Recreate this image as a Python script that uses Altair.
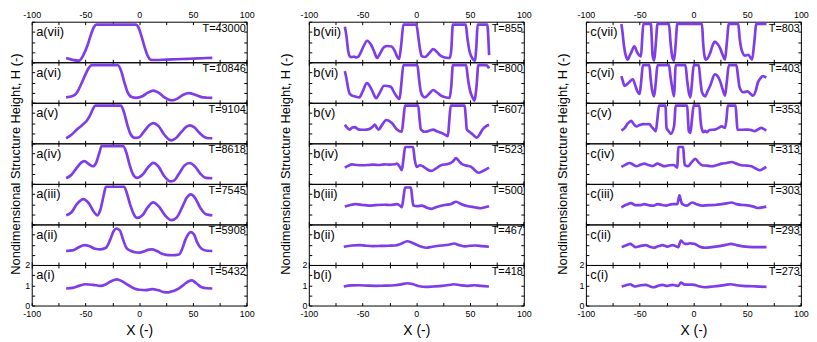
import altair as alt
import pandas as pd

ROMAN = ["vii", "vi", "v", "iv", "iii", "ii", "i"]
T_A = [43000, 10846, 9104, 8618, 7545, 5908, 5432]
T_B = [855, 800, 607, 523, 500, 467, 418]
T_C = [803, 403, 353, 313, 303, 293, 273]
X_TICKS = [-100, -75, -50, -25, 0, 25, 50, 75, 100]
Y_TICKS = [0, 0.5, 1, 1.5, 2]
Y_TITLE = "Nondimensional Structure Height, H (-)"
X_TITLE = "X (-)"

# ---- panel a ----
a7 = [(-68, 0.21), (-62, 0.12), (-56, 0.08), (-52, 0.35), (-48, 0.85), (-45, 1.35), (-42, 1.75), (-40, 1.86),
      (-3, 1.86), (-1, 1.75), (2, 1.3), (5, 0.75), (8, 0.3), (11, 0.12), (15, 0.11), (25, 0.13), (35, 0.15),
      (45, 0.17), (55, 0.19), (62, 0.21), (68, 0.22)]
a6 = [(-68, 0.27), (-62, 0.33), (-58, 0.5), (-54, 0.92), (-50, 1.4), (-47, 1.72), (-44, 1.86), (-20, 1.86),
      (-17, 1.6), (-14, 1.05), (-11, 0.55), (-7, 0.28), (-3, 0.24), (3, 0.32), (8, 0.5), (13, 0.6), (18, 0.5),
      (24, 0.25), (30, 0.12), (36, 0.22), (41, 0.4), (46, 0.48), (52, 0.4), (58, 0.28), (63, 0.25), (68, 0.24)]
a5 = [(-68, 0.25), (-63, 0.42), (-58, 0.68), (-53, 0.9), (-49, 1.1), (-46, 1.35), (-43, 1.7), (-41, 1.86),
      (-17, 1.86), (-14, 1.5), (-11, 0.9), (-8, 0.45), (-4, 0.27), (0, 0.3), (4, 0.55), (9, 0.88), (13, 1.0),
      (18, 0.85), (23, 0.45), (28, 0.18), (30, 0.15), (34, 0.25), (39, 0.55), (44, 0.82), (47, 0.89), (51, 0.8),
      (56, 0.52), (61, 0.3), (65, 0.25), (68, 0.25)]
a4 = [(-68, 0.28), (-63, 0.45), (-58, 0.8), (-54, 1.05), (-51, 1.12), (-47, 0.98), (-43, 0.87), (-40, 1.05),
      (-37, 1.55), (-35, 1.86), (-15, 1.86), (-12, 1.55), (-9, 0.95), (-6, 0.5), (-2, 0.3), (3, 0.45), (8, 0.8),
      (13, 1.04), (18, 0.85), (23, 0.4), (29, 0.12), (32, 0.15), (37, 0.5), (42, 0.9), (47, 1.03), (52, 0.85),
      (57, 0.5), (62, 0.3), (68, 0.28)]
a3 = [(-68, 0.45), (-63, 0.6), (-58, 1.0), (-52, 1.25), (-47, 1.05), (-42, 0.6), (-39, 0.45), (-36, 0.75),
      (-33, 1.45), (-31, 1.86), (-14, 1.86), (-11, 1.45), (-8, 0.9), (-5, 0.5), (-2, 0.32), (3, 0.45), (8, 0.85),
      (13, 1.09), (18, 0.9), (24, 0.45), (30, 0.21), (35, 0.35), (40, 0.85), (44, 1.3), (48, 1.48), (52, 1.3),
      (57, 0.8), (62, 0.5), (68, 0.45)]
a2 = [(-68, 0.69), (-62, 0.72), (-57, 0.85), (-51, 0.98), (-46, 0.92), (-41, 0.8), (-36, 0.77), (-31, 0.85),
      (-27, 1.25), (-24, 1.65), (-21, 1.8), (-18, 1.7), (-15, 1.25), (-12, 0.85), (-8, 0.7), (-4, 0.63), (0, 0.61),
      (5, 0.68), (9, 0.76), (12, 0.77), (16, 0.7), (21, 0.55), (25, 0.5), (30, 0.48), (37, 0.52), (40, 0.8),
      (43, 1.25), (46, 1.55), (48, 1.62), (51, 1.5), (54, 1.1), (58, 0.8), (63, 0.7), (68, 0.69)]
a1 = [(-68, 0.84), (-62, 0.87), (-56, 0.97), (-50, 1.05), (-43, 1.02), (-36, 0.97), (-31, 1.05), (-26, 1.2),
      (-21, 1.29), (-16, 1.2), (-10, 1.0), (-4, 0.83), (0, 0.78), (6, 0.76), (12, 0.81), (18, 0.75), (23, 0.66),
      (27, 0.65), (32, 0.72), (37, 0.85), (42, 1.05), (46, 1.2), (49, 1.24), (53, 1.1), (58, 0.9), (63, 0.85),
      (68, 0.84)]

# ---- panel b ----
b7 = [(-66.5, 1.75), (-65, 1.3), (-63.5, 0.6), (-62, 0.3), (-60, 0.25), (-58, 0.28), (-56, 0.24), (-54, 0.27),
      (-52, 0.45), (-49, 0.8), (-45.7, 1.06), (-42, 0.85), (-39, 0.5), (-36.5, 0.21), (-34, 0.4), (-30, 0.75),
      (-27, 0.8), (-23, 0.78), (-20, 0.55), (-17.5, 0.25), (-16, 0.16), (-14, 0.9), (-12, 1.86), (0, 1.86),
      (2, 1.2), (3.5, 0.62), (5, 0.3), (8, 0.26), (12, 0.45), (15.6, 0.65), (19, 0.52), (22, 0.35), (25, 0.26),
      (28, 0.22), (31, 0.21), (32.5, 0.6), (34, 1.86), (46, 1.86), (47.5, 1.2), (49.5, 0.54), (51.5, 0.25),
      (53.5, 0.1), (54.5, 0.08), (56, 0.9), (57, 1.86), (66, 1.86), (67, 1.2), (67.7, 0.35)]
b6 = [(-66.5, 1.56), (-65, 1.2), (-63.5, 0.75), (-62, 0.45), (-59, 0.34), (-56, 0.3), (-53, 0.27), (-50, 0.55),
      (-46, 0.97), (-42, 0.7), (-39, 0.35), (-37.4, 0.23), (-34, 0.5), (-30, 0.84), (-24, 0.8), (-20.5, 0.5),
      (-18.5, 0.33), (-15.6, 0.19), (-14, 0.9), (-12, 1.86), (1, 1.86), (2.5, 1.2), (4, 0.6), (6, 0.33), (8, 0.27),
      (12, 0.45), (15.6, 0.63), (19, 0.52), (23, 0.35), (27, 0.27), (31, 0.24), (32.5, 0.8), (34, 1.86),
      (46.3, 1.86), (48, 1.2), (50, 0.6), (52, 0.3), (54, 0.11), (56, 0.8), (57.7, 1.86), (65, 1.86), (66.5, 1.8),
      (67.7, 1.7)]
b5 = [(-66.5, 0.92), (-64, 0.75), (-62, 0.68), (-59.5, 0.78), (-57, 0.8), (-55, 0.72), (-53, 0.68), (-48, 0.67),
      (-44, 0.7), (-41, 0.8), (-38.6, 0.92), (-36.5, 0.75), (-35, 0.68), (-32, 0.9), (-28, 1.15), (-22.7, 1.0),
      (-18, 0.68), (-13.5, 0.57), (-12, 1.2), (-10.5, 1.86), (1.8, 1.86), (3, 1.2), (4.3, 0.68), (8, 0.57),
      (12, 0.62), (15.6, 0.68), (19, 0.6), (23, 0.52), (27, 0.42), (29.4, 0.36), (30.5, 1.0), (32, 1.86),
      (45, 1.86), (46, 1.3), (47, 0.68), (50, 0.55), (52.5, 0.44), (56.4, 0.28), (59, 0.45), (61.6, 0.68),
      (65, 0.85), (67.7, 0.92)]
b4 = [(-66.5, 0.8), (-63, 0.9), (-60, 0.96), (-55, 0.93), (-50, 0.92), (-45, 0.93), (-40, 0.95), (-35, 0.93),
      (-30, 0.96), (-25, 0.95), (-20, 0.97), (-18, 1.0), (-15.5, 0.85), (-13.5, 0.68), (-12, 1.2), (-10.4, 1.82),
      (-3, 1.82), (-1.5, 1.2), (0.3, 0.84), (3.4, 0.92), (6, 0.87), (10, 0.72), (14, 0.64), (18, 0.75), (23, 0.92),
      (28, 0.97), (31, 1.0), (34, 1.1), (37, 1.27), (40, 1.1), (43, 0.96), (47, 0.9), (51, 0.84), (54, 0.7),
      (57.7, 0.55), (62, 0.64), (67.7, 0.8)]
b3 = [(-66.5, 0.88), (-62, 0.95), (-56.4, 1.0), (-50, 0.96), (-44, 0.93), (-38, 0.95), (-30, 0.97), (-24, 0.96),
      (-18, 1.0), (-15, 0.92), (-13.5, 0.85), (-12, 1.3), (-10.5, 1.82), (-5, 1.82), (-3.8, 1.3), (-2.8, 0.93),
      (1, 0.9), (5, 0.93), (10, 0.82), (14, 0.77), (19, 0.86), (26.4, 0.96), (32, 1.0), (37, 1.12), (42, 1.0),
      (48, 0.9), (54, 0.85), (60, 0.8), (64, 0.85), (67.7, 0.9)]
b2 = [(-67.5, 0.9), (-60, 0.96), (-53, 0.98), (-47, 0.95), (-40, 0.93), (-33, 0.94), (-26, 0.95), (-19.6, 0.96),
      (-14, 1.05), (-8.5, 1.17), (-4, 1.1), (1, 0.98), (5, 0.9), (9, 0.85), (15, 0.9), (23.4, 0.96), (30, 1.0),
      (35, 1.06), (40, 0.98), (45.8, 0.92), (50, 0.95), (55, 0.96), (61, 0.93), (67.5, 0.9)]
b1 = [(-67.5, 0.94), (-60, 0.99), (-53, 1.0), (-45, 0.98), (-38, 0.97), (-30, 0.98), (-20, 1.0), (-14, 1.04),
      (-8.5, 1.1), (-3, 1.05), (3, 0.95), (9, 0.92), (16, 0.94), (24, 0.97), (30, 1.01), (35, 1.05), (41, 1.0),
      (47, 0.97), (54, 1.0), (60, 0.97), (67.5, 0.94)]

# ---- panel c ----
c7 = [(-67, 1.89), (-66, 1.5), (-64.5, 0.78), (-63, 0.35), (-61, 0.13), (-59.5, 0.3), (-58, 0.46), (-55, 0.78),
      (-52, 0.46), (-48.8, 0.29), (-47.8, 1.0), (-46.6, 1.89), (-39.6, 1.89), (-38.6, 1.0), (-38, 0.35),
      (-36.5, 0.08), (-35, 0.9), (-33.4, 1.89), (-22.7, 1.89), (-21.3, 1.0), (-19.6, 0.25), (-18, 0.08),
      (-16.5, 0.9), (-15, 1.89), (8, 1.89), (9, 1.0), (10.4, 0.29), (11.7, 0.13), (15.6, 0.46), (18, 0.85),
      (20, 1.02), (22.5, 0.9), (24.8, 0.7), (27, 0.4), (29.4, 0.13), (31, 0.9), (33, 1.89), (41.7, 1.89),
      (43, 1.2), (44.8, 0.62), (48, 0.33), (51, 0.37), (54.6, 0.13), (56.5, 0.9), (58.6, 1.89), (68, 1.89)]
c6 = [(-67, 1.32), (-65.5, 1.05), (-64, 0.84), (-60, 1.0), (-56.4, 1.16), (-54, 0.85), (-53, 0.68), (-50, 0.44),
      (-48.5, 1.1), (-47, 1.86), (-41, 1.86), (-39.8, 1.2), (-38.6, 0.68), (-36.5, 0.32), (-35, 1.0),
      (-33.4, 1.86), (-22.7, 1.86), (-21.3, 1.3), (-20, 0.84), (-18, 0.32), (-17.3, 1.0), (-16.6, 1.86),
      (-7.4, 1.86), (-5.8, 1.1), (-4.3, 0.52), (-2.8, 0.27), (-1.3, 1.0), (0.3, 1.86), (5, 1.86), (6.5, 1.1),
      (8, 0.52), (11, 0.32), (13, 0.55), (15.6, 0.84), (20, 1.4), (24.8, 1.08), (27, 0.7), (29.4, 0.35),
      (31, 1.0), (33, 1.86), (40, 1.86), (41.5, 1.3), (43, 0.76), (46.3, 0.52), (50.3, 0.56), (53, 0.45),
      (55.5, 0.35), (58, 0.6), (60, 1.0), (62.5, 1.22), (64.7, 1.32), (67.8, 1.24)]
c5 = [(-67, 0.63), (-64, 0.75), (-61, 0.98), (-58, 1.11), (-55.5, 0.95), (-53, 0.84), (-50, 0.9), (-47, 0.95),
      (-44, 0.94), (-41, 0.95), (-38.6, 0.8), (-36.5, 0.68), (-35, 0.6), (-33.5, 1.2), (-32, 1.86), (-26, 1.86),
      (-25, 0.76), (-23, 0.6), (-21, 0.47), (-18, 0.84), (-17.3, 1.3), (-16.6, 1.86), (-5.8, 1.86), (-4.9, 1.1),
      (-4.3, 0.6), (-2.8, 0.52), (-1.3, 1.2), (0.3, 1.86), (5.5, 1.86), (6.7, 1.1), (8, 0.68), (9.5, 0.55),
      (11, 0.62), (12.5, 0.55), (15, 0.66), (20, 0.68), (23, 0.75), (26.4, 0.84), (29.4, 0.76), (30.8, 1.2),
      (32, 1.86), (39.3, 1.86), (40.2, 1.2), (41, 0.68), (46, 0.67), (51, 0.68), (54, 0.65), (57, 0.6),
      (60, 0.68), (63, 0.76), (65.5, 0.7), (67.8, 0.63)]
c4 = [(-67, 0.84), (-63, 0.95), (-59.5, 1.03), (-56, 0.95), (-53, 0.87), (-49, 0.95), (-45.7, 1.0), (-42, 0.93),
      (-38, 0.88), (-33.4, 1.0), (-30, 0.93), (-27, 0.87), (-22.7, 0.92), (-18, 0.93), (-15, 0.8), (-14.5, 1.3),
      (-14, 1.82), (-9.5, 1.82), (-8.8, 1.3), (-8, 0.92), (-5, 0.87), (-2, 1.05), (1.8, 1.23), (5, 1.05),
      (8, 0.92), (12, 0.9), (17, 0.87), (22, 0.93), (26.4, 1.0), (31, 1.03), (35.6, 1.08), (40, 1.0),
      (44.8, 0.92), (50, 0.9), (54, 0.87), (58, 0.76), (61.7, 0.68), (65, 0.75), (67.8, 0.84)]
c3 = [(-67, 0.84), (-62, 0.98), (-58, 1.05), (-54, 0.95), (-50, 0.95), (-45.7, 1.0), (-41, 0.94), (-37, 0.93),
      (-33.4, 1.0), (-29, 0.96), (-25, 0.93), (-19.6, 1.0), (-15, 1.0), (-13, 1.44), (-11.5, 1.15), (-10.4, 1.0),
      (-6, 0.93), (-1.2, 1.08), (3, 1.0), (8, 0.93), (14, 0.95), (20, 0.96), (26.4, 1.0), (31, 1.04),
      (35.6, 1.08), (40, 1.0), (46, 0.96), (52, 0.93), (56, 0.88), (60, 0.81), (64, 0.84), (67.8, 0.88)]
c2 = [(-66.7, 0.88), (-62.5, 0.97), (-58.7, 1.04), (-56, 0.95), (-54, 0.88), (-49, 0.94), (-44.4, 0.98),
      (-40.5, 0.9), (-37, 0.85), (-33, 0.92), (-28.6, 0.98), (-26, 0.94), (-24, 0.9), (-21.5, 0.95), (-19, 0.98),
      (-16.5, 0.93), (-14, 0.88), (-11.7, 1.2), (-8, 1.04), (-5.5, 1.04), (-3, 1.07), (-1, 1.05), (1, 1.04),
      (5, 0.93), (8, 0.87), (11, 0.85), (17, 0.88), (24, 0.93), (30, 0.99), (35, 1.04), (40, 0.98), (46, 0.92),
      (55.5, 0.88), (62, 0.88), (68, 0.88)]
c1 = [(-66.7, 0.94), (-62.5, 1.0), (-58.7, 1.05), (-56, 0.97), (-54, 0.94), (-49, 1.0), (-44.4, 1.02),
      (-40.5, 0.95), (-37, 0.9), (-33, 0.97), (-28.6, 1.02), (-26, 0.98), (-24, 0.97), (-21.5, 1.0), (-19, 1.02),
      (-16.5, 0.99), (-14, 0.97), (-11.7, 1.13), (-8, 1.03), (-5, 1.03), (-2, 1.03), (1, 1.02), (5, 0.95),
      (11, 0.9), (17, 0.93), (24, 0.97), (30, 1.02), (35, 1.05), (40, 1.0), (46, 0.97), (55, 0.95), (62, 0.93),
      (68, 0.92)]

PANELS = [
    ("a", T_A, [a7, a6, a5, a4, a3, a2, a1]),
    ("b", T_B, [b7, b6, b5, b4, b3, b2, b1]),
    ("c", T_C, [c7, c6, c5, c4, c3, c2, c1]),
]

W = 217.4
H = 41
FONT = "Liberation Sans"
COLOR = "#7e3de6"
LAB_X = "datum.value % 50 === 0 ? '' + datum.value : ''"
LAB_Y = "datum.value % 1 === 0 ? '' + datum.value : ''"

XS = alt.Scale(domain=[-100, 100], nice=False, zero=False)
YS = alt.Scale(domain=[0, 2], nice=False, zero=False)


def axis(orient, values, show_labels, expr, title=None, title_pad=0, title_size=13, label_pad=2):
    kw = dict(
        orient=orient, values=values, labels=show_labels, labelExpr=expr,
        domain=False, grid=False, ticks=True, tickSize=3, offset=-3,
        tickColor="black", tickWidth=1,
        labelFont=FONT, labelFontSize=9, labelColor="black", labelPadding=label_pad,
        labelFlush=False, labelOverlap=False, title=title,
    )
    if title is not None:
        kw.update(titleFont=FONT, titleFontSize=title_size, titleFontWeight="normal",
                  titleColor="black", titlePadding=title_pad)
    return alt.Axis(**kw)


cells = []
for row in range(7):
    for col, (letter, tvals, series) in enumerate(PANELS):
        df = pd.DataFrame(series[row], columns=["x", "h"])
        is_top = row == 0
        is_bot = row == 6
        is_mid = row == 3
        left = axis("left", Y_TICKS, is_bot, LAB_Y,
                    title=Y_TITLE if is_mid else None,
                    title_pad=9 if col == 0 else 16, title_size=13, label_pad=2)
        bottom = axis("bottom", X_TICKS, is_bot, LAB_X,
                      title=X_TITLE if is_bot else None, title_pad=5, title_size=14, label_pad=4.5)
        top = axis("top", X_TICKS, is_top, LAB_X, label_pad=2)
        right = axis("right", Y_TICKS, False, LAB_Y)

        line = alt.Chart(df).mark_line(color=COLOR, strokeWidth=2.7, interpolate="monotone").encode(
            x=alt.X("x:Q", scale=XS, axis=bottom),
            y=alt.Y("h:Q", scale=YS, axis=left),
        )
        ghost = alt.Chart(df).mark_line(opacity=0).encode(
            x=alt.X("x:Q", scale=XS, axis=top),
            y=alt.Y("h:Q", scale=YS, axis=right),
        )
        name = alt.Chart(pd.DataFrame({"t": [f"{letter}({ROMAN[row]})"]})).mark_text(
            align="left", baseline="middle", font=FONT, fontSize=13, color="black"
        ).encode(text="t:N", x=alt.value(4.5), y=alt.value(10.5))
        tlab = alt.Chart(pd.DataFrame({"t": [f"T={tvals[row]}"]})).mark_text(
            align="right", baseline="middle", font=FONT, fontSize=11, color="black"
        ).encode(text="t:N", x=alt.value(W - 1), y=alt.value(7))
        cell = alt.layer(line, ghost, name, tlab).resolve_axis(
            x="independent", y="independent"
        ).properties(width=W, height=H)
        cells.append(cell)

chart = alt.concat(
    *cells, columns=3, spacing={"row": 0, "column": 62.2}, bounds="flush"
).properties(
    padding=0, background="white"
).configure_view(stroke="black", strokeWidth=1)

chart.save("out.html", embed_options={"renderer": "svg", "actions": False})
